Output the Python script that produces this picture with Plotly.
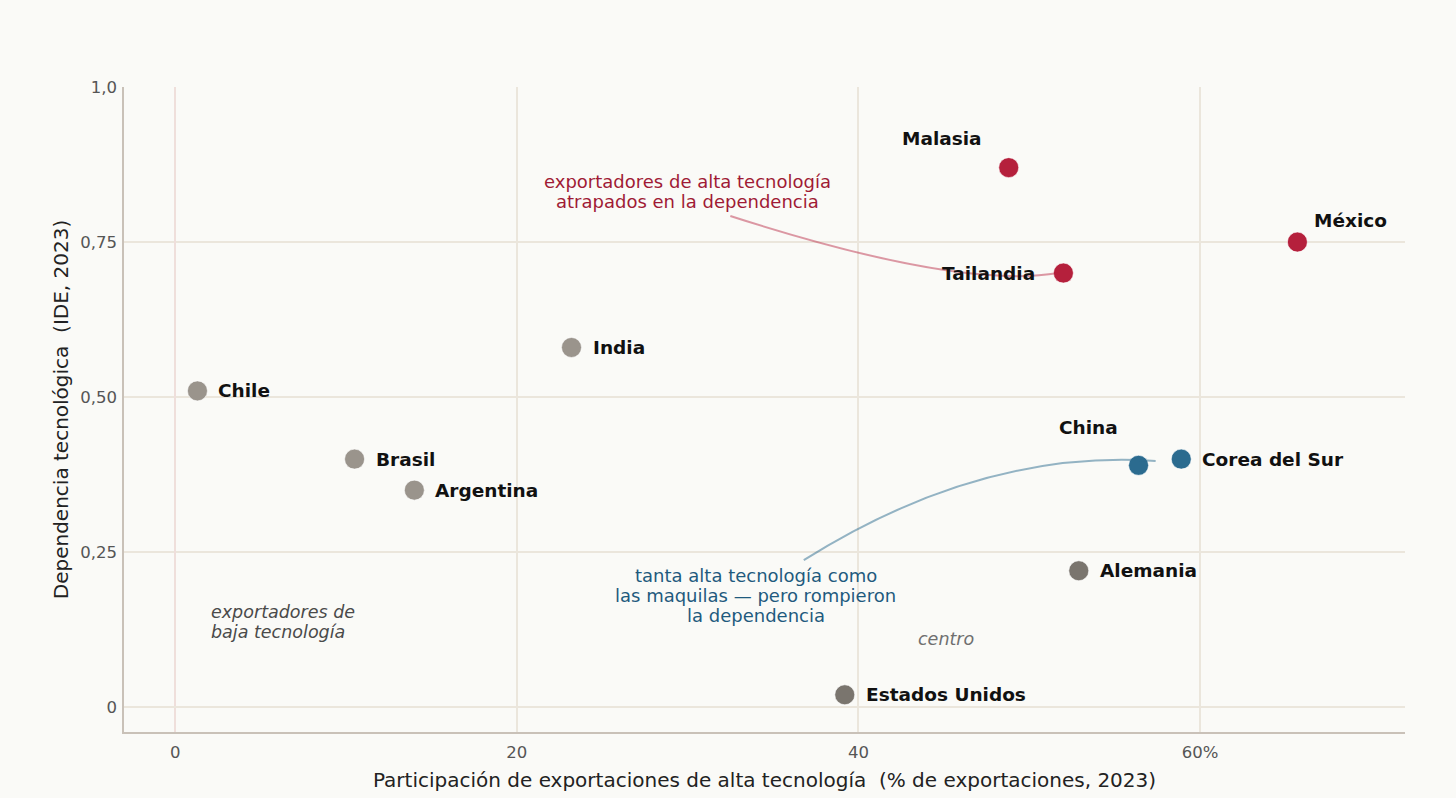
import plotly.graph_objects as go

# ---------------------------------------------------------------
# Data
# ---------------------------------------------------------------
paises = ["Chile", "Brasil", "Argentina", "India", "Estados Unidos", "Alemania",
          "Malasia", "Tailandia", "México", "China", "Corea del Sur"]
alta_tec = [1.3, 10.5, 14.0, 23.2, 39.2, 52.9, 48.8, 52.0, 65.7, 56.4, 58.9]
ide = [0.51, 0.40, 0.35, 0.58, 0.02, 0.22, 0.87, 0.70, 0.75, 0.39, 0.40]
grupo = ["baja", "baja", "baja", "baja", "centro", "centro",
         "maquila", "maquila", "maquila", "ruptura", "ruptura"]

x_ticks = [0, 20, 40, 60]
x_ticktext = ["0", "20", "40", "60%"]
y_ticks = [0, 0.25, 0.5, 0.75, 1.0]
y_ticktext = ["0", "0,25", "0,50", "0,75", "1,0"]

# ---------------------------------------------------------------
# Styles
# ---------------------------------------------------------------
FONT = "DejaVu Sans"
BG = "#fafaf7"
RED = "#b5203c"
BLUE = "#2b6b8f"
COLORS = {"baja": "#9a948c", "centro": "#7a756e", "maquila": RED, "ruptura": BLUE}

# label placement per country: (xanchor, xshift, yshift)
LABEL_POS = {
    "Malasia": ("center", -67, 29),
    "Tailandia": ("right", -26, 0),
    "México": ("center", 53, 22),
    "China": ("center", -50, 38),
}


def add_note(fig, x, y, lines, color, size, italic=False, anchor="center", gap=20):
    """Multi-line note, one annotation per line so the line spacing stays tight."""
    n = len(lines)
    for i, line in enumerate(lines):
        txt = f"<i>{line}</i>" if italic else line
        fig.add_annotation(
            x=x, y=y, text=txt, showarrow=False, xanchor=anchor, yanchor="middle",
            yshift=((n - 1) / 2 - i) * gap,
            font=dict(family=FONT, size=size, color=color),
        )


fig = go.Figure()

fig.add_trace(
    go.Scatter(
        x=alta_tec,
        y=ide,
        mode="markers",
        marker=dict(size=20, color=[COLORS[g] for g in grupo],
                    line=dict(width=1, color="rgba(255,255,255,0.6)")),
        text=paises,
        hovertemplate="<b>%{text}</b><br>%{x}%<br>IDE: %{y}<extra></extra>",
        showlegend=False,
    )
)

# country labels
for p, xv, yv in zip(paises, alta_tec, ide):
    anchor, dx, dy = LABEL_POS.get(p, ("left", 19, 0))
    fig.add_annotation(
        x=xv, y=yv, text=f"<b>{p}</b>", showarrow=False,
        xanchor=anchor, yanchor="middle", xshift=dx, yshift=dy,
        font=dict(family=FONT, size=18.5, color="#111111"),
    )

# group notes
add_note(fig, 30, 0.832, ["exportadores de alta tecnología", "atrapados en la dependencia"],
         "#a01a35", 18)
add_note(fig, 34, 0.18, ["tanta alta tecnología como", "las maquilas — pero rompieron",
                         "la dependencia"], "#1f5a7e", 18)
add_note(fig, 2.0, 0.137, ["exportadores de", "baja tecnología"], "#4a4a4a", 17.5,
         italic=True, anchor="left")
add_note(fig, 45.1, 0.11, ["centro"], "#6f6f6f", 17.5, italic=True)

# curved connectors (quadratic bezier in data coords)
i_tai = paises.index("Tailandia")
i_chn = paises.index("China")
fig.add_shape(
    type="path", xref="x", yref="y",
    path=f"M 32.5,0.792 Q 45.9,0.673 {alta_tec[i_tai] - 0.3},{ide[i_tai]}",
    line=dict(color="rgba(181,32,60,0.45)", width=2),
)
fig.add_shape(
    type="path", xref="x", yref="y",
    path=f"M 36.8,0.237 Q 47.1,0.416 {alta_tec[i_chn] + 1.0},{ide[i_chn] + 0.007}",
    line=dict(color="rgba(43,107,143,0.5)", width=2),
)

fig.update_xaxes(
    range=[-3, 72], tickvals=x_ticks, ticktext=x_ticktext,
    showgrid=True, gridcolor="#ebe6dc", gridwidth=1.5,
    zeroline=True, zerolinecolor="#efdfdb", zerolinewidth=1.5,
    showline=True, linecolor="#c9c1b8", linewidth=1.5,
    ticks="", ticklabelstandoff=4,
    tickfont=dict(family=FONT, size=16.5, color="#555555"),
    title=dict(text="Participación de exportaciones de alta tecnología  (% de exportaciones, 2023)",
               font=dict(family=FONT, size=20, color="#222222"), standoff=12),
)
fig.update_yaxes(
    range=[-0.04, 1.0], tickvals=y_ticks, ticktext=y_ticktext,
    showgrid=True, gridcolor="#ebe6dc", gridwidth=1.5,
    zeroline=True, zerolinecolor="#ebe6dc", zerolinewidth=1.5,
    showline=True, linecolor="#c9c1b8", linewidth=1.5,
    ticks="", ticklabelstandoff=2,
    tickfont=dict(family=FONT, size=16.5, color="#555555"),
    title=dict(text="Dependencia tecnológica  (IDE, 2023)",
               font=dict(family=FONT, size=20, color="#222222"), standoff=6),
)

fig.update_layout(
    width=1456,
    height=798,
    margin=dict(l=116, r=59, t=79, b=74),
    paper_bgcolor=BG,
    plot_bgcolor=BG,
    showlegend=False,
)

fig.write_html("out.html", post_script=f"document.body.style.background = '{BG}';")
